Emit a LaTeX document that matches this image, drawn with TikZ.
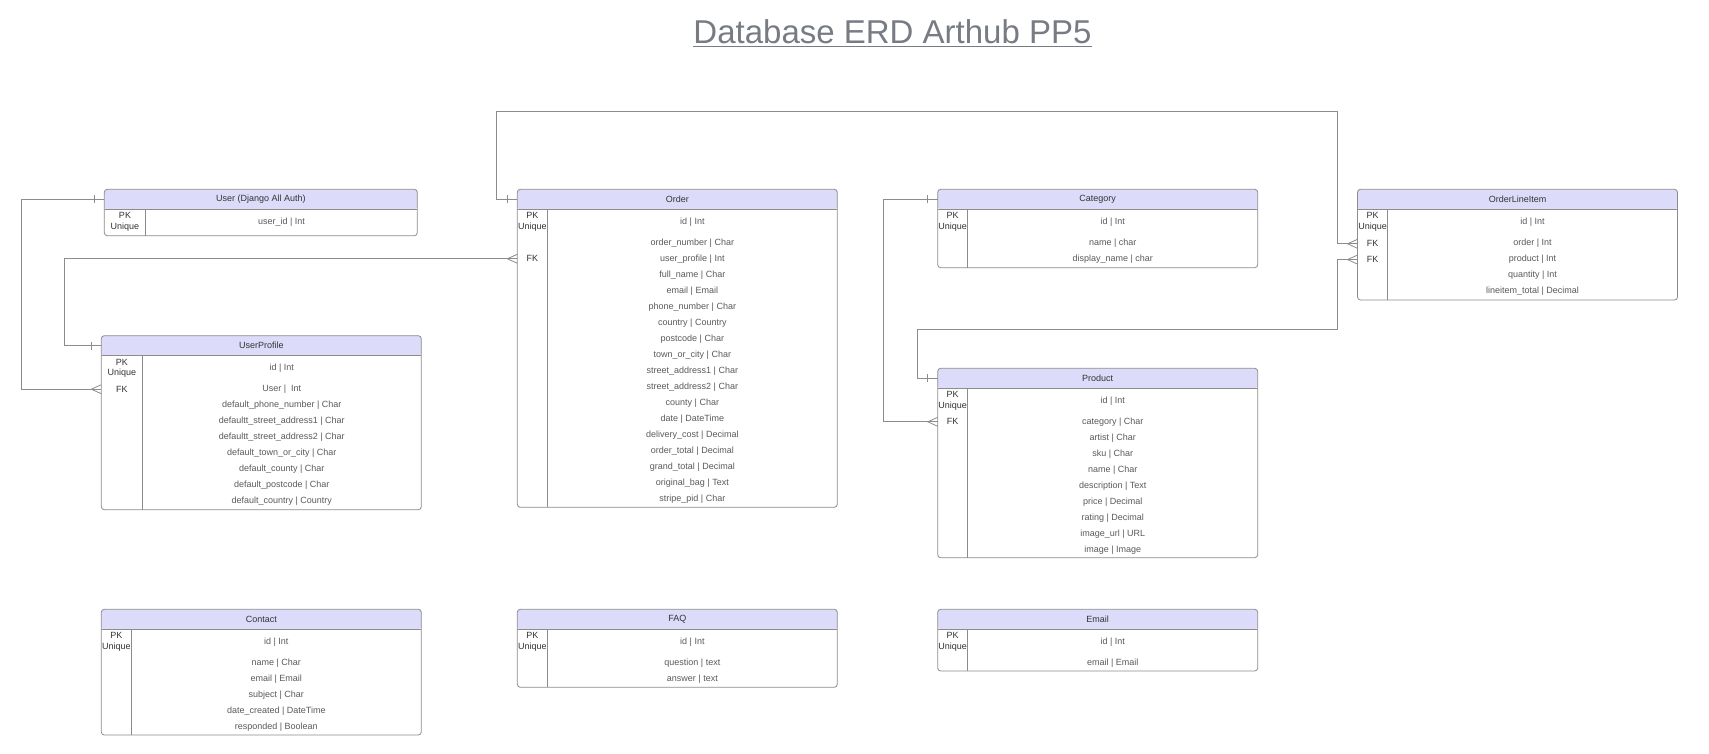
\documentclass[tikz,border=0pt]{standalone}
\usepackage{fontspec}
\setmainfont{Liberation Sans}
\definecolor{headfill}{HTML}{DCDCFA}
\definecolor{boxline}{HTML}{8C8C8C}
\definecolor{fieldcol}{HTML}{5A5A5A}
\definecolor{keycol}{HTML}{333333}
\definecolor{titlegrey}{HTML}{777B84}
\tikzset{
  erd/.style={draw=boxline, line width=0.8pt, fill=white, rounded corners=3pt,
    anchor=north west, inner sep=0pt, outer sep=0pt, minimum width=320pt,
    path picture={
      \fill[headfill] (path picture bounding box.north west) rectangle ([yshift=-20pt]path picture bounding box.north east);
      \draw[boxline, line width=0.8pt] ([yshift=-20pt]path picture bounding box.north west) -- ([yshift=-20pt]path picture bounding box.north east);}},
  divline/.style={draw=boxline, line width=0.8pt},
  conn/.style={draw=boxline, line width=0.8pt},
  headtext/.style={text=keycol, inner sep=0pt},
  keytext/.style={text=keycol, inner sep=0pt, align=center},
  field/.style={text=fieldcol, inner sep=0pt},
  titletext/.style={text=titlegrey, inner sep=0pt, font=\fontsize{33}{40}\selectfont},
  one/.pic={\draw[conn] (-10pt,-4pt) -- (-10pt,4pt);},
  many/.pic={\draw[conn] (0pt,-4.5pt) -- (-10pt,0pt) -- (0pt,4.5pt);}
}
\begin{document}
\begin{tikzpicture}[x=1pt, y=-1pt, font=\fontsize{9}{10.6}\selectfont]
\useasboundingbox (0,0) rectangle (1709,754);

% title
\node[titletext, anchor=base] (title) at (892.5,43.3) {Database ERD Arthub PP5};
\draw[titlegrey, line width=1.6pt] ([yshift=-3.4pt]title.base west) -- ([yshift=-3.4pt]title.base east);

% User
\node[erd, minimum width=313pt, minimum height=46.4pt] (user) at (104.3,189.3) {};
\node[headtext] (usertitle) at ([yshift=-10pt]user.north) {User (Django All Auth)};
\draw[divline] ([xshift=41.4pt,yshift=-20pt]user.north west) -- ([xshift=41.4pt]user.south west);
\node[keytext] (userpk) at (125,222) {PK\\Unique};
\node[field] (userid) at (281.5,222) {user\_id | Int};

% UserProfile
\node[erd, minimum height=174pt] (userprofile) at (101.3,335.7) {};
\node[headtext] (userprofiletitle) at ([yshift=-10pt]userprofile.north) {UserProfile};
\draw[divline] ([xshift=41pt,yshift=-20pt]userprofile.north west) -- ([xshift=41pt]userprofile.south west);
\node[keytext] (userprofilepk) at (121.8,368.2) {PK\\Unique};
\node[keytext] (userprofilefk) at (121.8,389.2) {FK};
\node[field] (userprofileid) at (281.8,368.2) {id | Int};
\foreach \f [count=\i from 0] in {User |\ \ Int, default\_phone\_number | Char, defaultt\_street\_address1 | Char,
    defaultt\_street\_address2 | Char, default\_town\_or\_city | Char, default\_county | Char,
    default\_postcode | Char, default\_country | Country}
  \node[field] (userprofile-\i) at (281.8,{389.2+16*\i}) {\f};

% Order
\node[erd, minimum height=318pt] (order) at (517.3,189.3) {};
\node[headtext] (ordertitle) at ([yshift=-10pt]order.north) {Order};
\draw[divline] ([xshift=30pt,yshift=-20pt]order.north west) -- ([xshift=30pt]order.south west);
\node[keytext] (orderpk) at (532.3,221.8) {PK\\Unique};
\node[keytext] (orderfk) at (532.3,258.8) {FK};
\node[field] (orderid) at (692.4,221.8) {id | Int};
\foreach \f [count=\i from 0] in {order\_number | Char, user\_profile | Int, full\_name | Char, email | Email,
    phone\_number | Char, country | Country, postcode | Char, town\_or\_city | Char, street\_address1 | Char,
    street\_address2 | Char, county | Char, date | DateTime, delivery\_cost | Decimal, order\_total | Decimal,
    grand\_total | Decimal, original\_bag | Text, stripe\_pid | Char}
  \node[field] (order-\i) at (692.4,{242.8+16*\i}) {\f};

% Category
\node[erd, minimum height=78.4pt] (category) at (937.7,189.3) {};
\node[headtext] (categorytitle) at ([yshift=-10pt]category.north) {Category};
\draw[divline] ([xshift=30pt,yshift=-20pt]category.north west) -- ([xshift=30pt]category.south west);
\node[keytext] (categorypk) at (952.7,221.8) {PK\\Unique};
\node[field] (categoryid) at (1112.7,221.8) {id | Int};
\foreach \f [count=\i from 0] in {name | char, display\_name | char}
  \node[field] (category-\i) at (1112.7,{242.8+16*\i}) {\f};

% OrderLineItem
\node[erd, minimum height=110.7pt] (lineitem) at (1357.5,189.3) {};
\node[headtext] (lineitemtitle) at ([yshift=-10pt]lineitem.north) {OrderLineItem};
\draw[divline] ([xshift=30pt,yshift=-20pt]lineitem.north west) -- ([xshift=30pt]lineitem.south west);
\node[keytext] (lineitempk) at (1372.5,221.8) {PK\\Unique};
\node[keytext] (lineitemfka) at (1372.5,243.8) {FK};
\node[keytext] (lineitemfkb) at (1372.5,259.6) {FK};
\node[field] (lineitemid) at (1532.5,221.8) {id | Int};
\foreach \f [count=\i from 0] in {order | Int, product | Int, quantity | Int, lineitem\_total | Decimal}
  \node[field] (lineitem-\i) at (1532.5,{242.8+16*\i}) {\f};

% Product
\node[erd, minimum height=189.4pt] (product) at (937.7,368.3) {};
\node[headtext] (producttitle) at ([yshift=-10pt]product.north) {Product};
\draw[divline] ([xshift=30pt,yshift=-20pt]product.north west) -- ([xshift=30pt]product.south west);
\node[keytext] (productpk) at (952.7,400.8) {PK\\Unique};
\node[keytext] (productfk) at (952.7,421.8) {FK};
\node[field] (productid) at (1112.7,400.8) {id | Int};
\foreach \f [count=\i from 0] in {category | Char, artist | Char, sku | Char, name | Char, description | Text,
    price | Decimal, rating | Decimal, image\_url | URL, image | Image}
  \node[field] (product-\i) at (1112.7,{421.8+16*\i}) {\f};

% Contact
\node[erd, minimum height=125.7pt] (contact) at (101.3,609.3) {};
\node[headtext] (contacttitle) at ([yshift=-10pt]contact.north) {Contact};
\draw[divline] ([xshift=30pt,yshift=-20pt]contact.north west) -- ([xshift=30pt]contact.south west);
\node[keytext] (contactpk) at (116.3,641.8) {PK\\Unique};
\node[field] (contactid) at (276.3,641.8) {id | Int};
\foreach \f [count=\i from 0] in {name | Char, email | Email, subject | Char, date\_created | DateTime, responded | Boolean}
  \node[field] (contact-\i) at (276.3,{662.8+16*\i}) {\f};

% FAQ
\node[erd, minimum height=78pt] (faq) at (517.3,609.3) {};
\node[headtext] (faqtitle) at ([yshift=-10pt]faq.north) {FAQ};
\draw[divline] ([xshift=30pt,yshift=-20pt]faq.north west) -- ([xshift=30pt]faq.south west);
\node[keytext] (faqpk) at (532.3,641.8) {PK\\Unique};
\node[field] (faqid) at (692.4,641.8) {id | Int};
\foreach \f [count=\i from 0] in {question | text, answer | text}
  \node[field] (faq-\i) at (692.4,{662.8+16*\i}) {\f};

% Email
\node[erd, minimum height=61.7pt] (email) at (937.7,609.3) {};
\node[headtext] (emailtitle) at ([yshift=-10pt]email.north) {Email};
\draw[divline] ([xshift=30pt,yshift=-20pt]email.north west) -- ([xshift=30pt]email.south west);
\node[keytext] (emailpk) at (952.7,641.8) {PK\\Unique};
\node[field] (emailid) at (1112.7,641.8) {id | Int};
\node[field] (email-0) at (1112.7,662.8) {email | Email};

% relations
\coordinate (topbend) at (1337.3,111.7);
\coordinate (midbend) at (1337.3,329.3);
\draw[conn] (user.west |- usertitle) -- ++(-82.6,0) |- (userprofile.west |- userprofilefk);
\draw[conn] (userprofile.west |- userprofiletitle) -- ++(-37,0) |- (order.west |- orderfk);
\draw[conn] (order.west |- ordertitle) -- ++(-21.3,0) |- (topbend) |- (lineitem.west |- lineitemfka);
\draw[conn] (product.west |- producttitle) -- ++(-20,0) |- (midbend) |- (lineitem.west |- lineitemfkb);
\draw[conn] (category.west |- categorytitle) -- ++(-54.4,0) |- (product.west |- productfk);
\pic at (user.west |- usertitle) {one};
\pic at (userprofile.west |- userprofiletitle) {one};
\pic at (order.west |- ordertitle) {one};
\pic at (product.west |- producttitle) {one};
\pic at (category.west |- categorytitle) {one};
\pic at (userprofile.west |- userprofilefk) {many};
\pic at (order.west |- orderfk) {many};
\pic at (lineitem.west |- lineitemfka) {many};
\pic at (lineitem.west |- lineitemfkb) {many};
\pic at (product.west |- productfk) {many};
\end{tikzpicture}
\end{document}
